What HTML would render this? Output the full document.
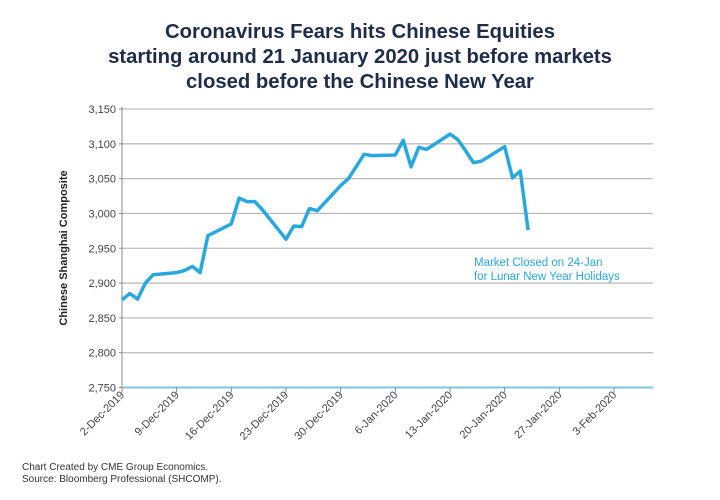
<!DOCTYPE html>
<html><head><meta charset="utf-8"><style>
body{margin:0;background:#fff;width:720px;height:500px;overflow:hidden;font-family:"Liberation Sans",sans-serif}
svg{display:block}
</style></head><body>
<svg id="chart" width="720" height="500">
<g fill="#1f2d4a" font-weight="bold" font-size="20.3" text-anchor="middle">
<text x="360" y="38">Coronavirus Fears hits Chinese Equities</text>
<text x="360" y="63">starting around 21 January 2020 just before markets</text>
<text x="360" y="88">closed before the Chinese New Year</text>
</g>
<g id="grid"></g><g id="yaxis"></g><g id="xaxis"></g><g id="series"></g>
<text x="0" y="0" transform="translate(67,248) rotate(-90)" text-anchor="middle" font-size="11" font-weight="bold" fill="#222">Chinese Shanghai Composite</text>
<g fill="#29a8e0" font-size="11.5">
<text x="474" y="266">Market Closed on 24-Jan</text>
<text x="474" y="280">for Lunar New Year Holidays</text>
</g>
<g fill="#333" font-size="10">
<text x="22" y="470">Chart Created by CME Group Economics.</text>
<text x="22" y="482">Source:  Bloomberg Professional (SHCOMP).</text>
</g>
</svg>
<script>
const dates=["2019-12-02","2019-12-03","2019-12-04","2019-12-05","2019-12-06","2019-12-09","2019-12-10","2019-12-11","2019-12-12","2019-12-13","2019-12-16","2019-12-17","2019-12-18","2019-12-19","2019-12-20","2019-12-23","2019-12-24","2019-12-25","2019-12-26","2019-12-27","2019-12-30","2019-12-31","2020-01-02","2020-01-03","2020-01-06","2020-01-07","2020-01-08","2020-01-09","2020-01-10","2020-01-13","2020-01-14","2020-01-15","2020-01-16","2020-01-17","2020-01-20","2020-01-21","2020-01-22","2020-01-23"];
const values=[2876,2885,2877,2900,2912,2915,2918,2924,2915,2968,2985,3022,3017,3017,3005,2963,2982,2981,3007,3004,3040,3050,3085,3083,3084,3105,3067,3095,3092,3114,3106,3090,3073,3075,3096,3051,3061,2976];
const yTicks=[2750,2800,2850,2900,2950,3000,3050,3100,3150];
const xTickLabels=["2-Dec-2019","9-Dec-2019","16-Dec-2019","23-Dec-2019","30-Dec-2019","6-Jan-2020","13-Jan-2020","20-Jan-2020","27-Jan-2020","3-Feb-2020"];
const xTickDates=["2019-12-02","2019-12-09","2019-12-16","2019-12-23","2019-12-30","2020-01-06","2020-01-13","2020-01-20","2020-01-27","2020-02-03"];
const NS="http://www.w3.org/2000/svg";
const X0=122,X1=653,Y0=387.5,Y1=109;
const t0=Date.parse("2019-12-02"),dayPx=7.81;
function x(d){return X0+(Date.parse(d)-t0)/864e5*dayPx;}
function y(v){return Y0-(v-2750)/400*(Y0-Y1);}
function el(tag,a,p){const e=document.createElementNS(NS,tag);for(const k in a)e.setAttribute(k,a[k]);p.appendChild(e);return e;}
const grid=document.getElementById('grid'),ya=document.getElementById('yaxis'),xa=document.getElementById('xaxis'),se=document.getElementById('series');
yTicks.forEach(v=>{
 if(v>2750){const g=el('line',{x1:X0,x2:X1,y1:y(v),y2:y(v),stroke:'#bdbdbd','stroke-width':1.3},grid);
 
 }
 const tk=el('line',{x1:X0-3,x2:X0,y1:y(v),y2:y(v),stroke:'#888'},ya);
 
 
 const t=el('text',{x:X0-6,y:y(v)+4,'text-anchor':'end','font-size':11,fill:'#444'},ya);
 t.textContent=v.toLocaleString('en-US');
 
 
});
const yl=el('line',{x1:X0,x2:X0,y1:Y1-2,y2:Y0,stroke:'#888','stroke-width':1},ya);


const xl=el('line',{x1:X0,x2:X1,y1:Y0,y2:Y0,stroke:'#7fc6df','stroke-width':2},xa);


xTickDates.forEach((d,i)=>{
 const xx=x(d);
 const tk=el('line',{x1:xx,x2:xx,y1:Y0,y2:Y0+5,stroke:'#888'},xa);
 
 
 const t=el('text',{x:0,y:0,transform:`translate(${xx+3},${Y0+8}) rotate(-45)`,'text-anchor':'end','font-size':11,fill:'#444'},xa);
 t.textContent=xTickLabels[i];
 
 
});
const pts=dates.map((d,i)=>x(d).toFixed(1)+','+y(values[i]).toFixed(1)).join(' ');
const pl=el('polyline',{points:pts,fill:'none',stroke:'#29a8e0','stroke-width':3.5,'stroke-linejoin':'round'},se);


</script>
</body></html>
